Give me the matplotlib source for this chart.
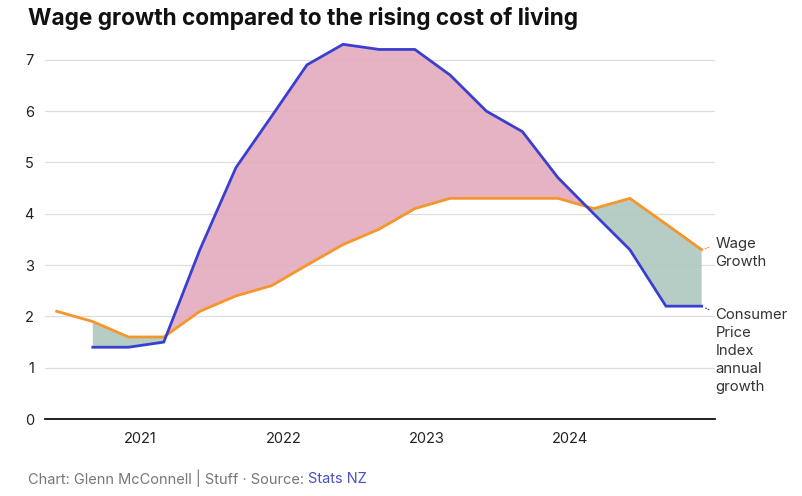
import numpy as np
import pandas as pd
import matplotlib
matplotlib.use("Agg")
import matplotlib.pyplot as plt

plt.rcParams["font.family"] = ["Inter", "DejaVu Sans"]

# quarterly, plotted at first day of the quarter's last month
quarters = pd.date_range("2020-06-01", "2024-12-01", freq="3MS")
wage = [2.1, 1.9, 1.6, 1.6, 2.1, 2.4, 2.6, 3.0, 3.4, 3.7, 4.1, 4.3, 4.3, 4.3, 4.3, 4.1, 4.3, 3.8, 3.3]
cpi = [np.nan, 1.4, 1.4, 1.5, 3.3, 4.9, 5.9, 6.9, 7.3, 7.2, 7.2, 6.7, 6.0, 5.6, 4.7, 4.0, 3.3, 2.2, 2.2]
year_ticks = ["2021", "2022", "2023", "2024"]

blue = "#3a3fd0"
orange = "#f5952a"

fig = plt.figure(figsize=(8.02, 4.96), dpi=100)
ax = fig.add_axes([0.056, 0.155, 0.836, 0.766])

w = np.array(wage)
c = np.array(cpi)
ok = ~np.isnan(c)
x = quarters[ok]
ax.fill_between(x, w[ok], c[ok], where=c[ok] >= w[ok], interpolate=True,
                color="#e3adbf", alpha=0.92, lw=0, zorder=1)
ax.fill_between(x, w[ok], c[ok], where=c[ok] <= w[ok], interpolate=True,
                color="#afc9c0", alpha=0.92, lw=0, zorder=1)

ax.plot(quarters, wage, color=orange, lw=2, zorder=3, solid_joinstyle="miter")
ax.plot(quarters, cpi, color=blue, lw=2, zorder=4, solid_joinstyle="miter")

ax.set_xlim(pd.Timestamp("2020-05-02"), pd.Timestamp("2025-01-05"))
ax.set_ylim(0, 7.4)
ax.set_yticks(range(0, 8))
ax.set_xticks([pd.Timestamp(f"{y}-01-01") for y in year_ticks])
ax.set_xticklabels(year_ticks)
ax.grid(axis="y", color="#dddddd", lw=0.9, zorder=0)
ax.set_axisbelow(True)
for s in ["top", "right", "left"]:
    ax.spines[s].set_visible(False)
ax.spines["bottom"].set_color("#111111")
ax.spines["bottom"].set_linewidth(1.3)
ax.tick_params(axis="both", length=0, labelsize=10.5, colors="#222222")
ax.tick_params(axis="x", pad=9)
ax.tick_params(axis="y", pad=8)

# end labels
end = quarters[-1]
ax.annotate("Wage\nGrowth", xy=(end, wage[-1]), xytext=(10, 9), textcoords="offset points",
            fontsize=10.7, color="#333333", va="top", ha="left", linespacing=1.38,
            annotation_clip=False,
            arrowprops=dict(arrowstyle="-", color=orange, lw=0.8, ls=(0, (1, 1.5)),
                            shrinkA=3, shrinkB=2, relpos=(0, 0.75)))
ax.annotate("Consumer\nPrice\nIndex\nannual\ngrowth", xy=(end, cpi[-1]), xytext=(10, -1),
            textcoords="offset points", fontsize=10.7, color="#333333", va="top", ha="left",
            linespacing=1.38, annotation_clip=False,
            arrowprops=dict(arrowstyle="-", color=blue, lw=0.8, ls=(0, (1, 1.5)),
                            shrinkA=3, shrinkB=2, relpos=(0, 0.94)))

fig.text(0.035, 0.963, "Wage growth compared to the rising cost of living",
         fontsize=16.3, fontweight="bold", color="#111111", va="center")
t1 = fig.text(0.035, 0.035, "Chart: Glenn McConnell | Stuff · Source: ", fontsize=10.5,
              color="#777777", va="center")
fig.canvas.draw()
bb = t1.get_window_extent()
fig.text(bb.x1 / fig.bbox.width, 0.035, "Stats NZ", fontsize=10.5, color="#4a4fc4", va="center")

fig.savefig("out.png", dpi=100)
